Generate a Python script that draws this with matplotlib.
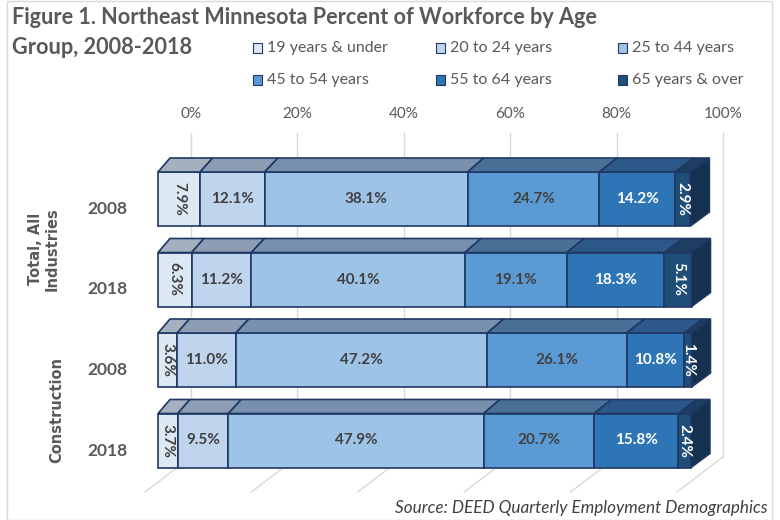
import matplotlib
matplotlib.use('Agg')
import matplotlib.pyplot as plt
from matplotlib.patches import Polygon, Rectangle

plt.rcParams['font.family'] = ['Lato', 'DejaVu Sans']

# data
group_labels = ['Total, All\nIndustries', 'Construction']
years = ['2008', '2018', '2008', '2018']
age_groups = ['19 years & under', '20 to 24 years', '25 to 44 years',
              '45 to 54 years', '55 to 64 years', '65 years & over']
under19 = [7.9, 6.3, 3.6, 3.7]
age20_24 = [12.1, 11.2, 11.0, 9.5]
age25_44 = [38.1, 40.1, 47.2, 47.9]
age45_54 = [24.7, 19.1, 26.1, 20.7]
age55_64 = [14.2, 18.3, 10.8, 15.8]
over65 = [2.9, 5.1, 1.4, 2.4]
ticks = [0, 20, 40, 60, 80, 100]

series = [under19, age20_24, age25_44, age45_54, age55_64, over65]
front_c = ['#dde8f5', '#bfd5ee', '#9dc3e6', '#5b9bd5', '#2e75b6', '#1f4e79']
top_c = ['#a5b0bf', '#8c9db4', '#7790ad', '#4a7098', '#2b5889', '#1d3d63']
side_c = '#16304f'
edge = '#1f3864'
txt_c = ['#404040', '#404040', '#404040', '#404040', 'white', 'white']
gray = '#595959'

W, H = 780, 520
PX = 5.33      # pixels per percent (front plane)
X0 = 158       # pixel x of 0% on the front plane
Y0 = 199       # pixel y of first bar centre
PITCH = 80.5   # pixels between bars

fig = plt.figure(figsize=(W / 100, H / 100), dpi=100)
ax = fig.add_axes([0, 0, 1, 1])
ax.set_xlim(-X0 / PX, (W - X0) / PX)
ax.set_ylim((H - Y0) / PITCH, -Y0 / PITCH)
ax.axis('off')

h = 54 / PITCH          # bar height
d = 14 / PITCH          # depth (vertical)


def back(x):
    # x position of the back edge (perspective)
    return 2.25 + x * 1.013


def grid_x(p):
    return 6.19 + p * 0.998


wall_top = (133 - Y0) / PITCH
wall_bot = (457 - Y0) / PITCH
floor_front = (492 - Y0) / PITCH

for p in ticks:
    gx = grid_x(p)
    ax.plot([gx, gx], [wall_top, wall_bot], color='#d9d9d9', lw=1, zorder=1)
    ax.plot([gx, gx - 46 / PX], [wall_bot, floor_front], color='#d9d9d9', lw=1, zorder=1)
    ax.text(gx, (114 - Y0) / PITCH, '%d%%' % p, ha='center', va='center',
            fontsize=11, color=gray)

n = len(years)
ypos = list(range(n))
left = [0.0] * n
for k, vals in enumerate(series):
    ax.barh(ypos, vals, left=left, height=h, color=front_c[k],
            edgecolor=edge, linewidth=1.2, zorder=3)
    for i in range(n):
        x0, x1 = left[i], left[i] + vals[i]
        top = i - h / 2
        ax.add_patch(Polygon([(x0, top), (x1, top), (back(x1), top - d), (back(x0), top - d)],
                             closed=True, fc=top_c[k], ec=edge, lw=1.2, zorder=3))
        rot = -90 if vals[i] < 8 else 0
        ax.text((x0 + x1) / 2, i, '%.1f%%' % vals[i], ha='center', va='center',
                rotation=rot, fontsize=11, fontweight='bold', color=txt_c[k], zorder=5)
    left = [l + v for l, v in zip(left, vals)]

# right side faces
for i in range(n):
    x1 = left[i]
    top, bot = i - h / 2, i + h / 2
    ax.add_patch(Polygon([(x1, top), (back(x1), top - d), (back(x1), bot - d), (x1, bot)],
                         closed=True, fc=side_c, ec=edge, lw=1.2, zorder=3))

# year labels and group labels
for i, yr in enumerate(years):
    ax.text((107 - X0) / PX, i + 10 / PITCH, yr, ha='center', va='center',
            fontsize=12.5, fontweight='bold', color=gray)
group_px = [44, 57]
for g, lab in enumerate(group_labels):
    ax.text((group_px[g] - X0) / PX, 2 * g + 0.5 + 10 / PITCH, lab, ha='center', va='center',
            rotation=90, fontsize=10.5, fontweight='bold', color=gray,
            family='DejaVu Sans', linespacing=1.1)

# title
fig.text(12 / W, 1 - 18 / H, 'Figure 1. Northeast Minnesota Percent of Workforce by Age',
         ha='left', va='center', fontsize=15.6, fontweight='bold', color=gray)
fig.text(12 / W, 1 - 47 / H, 'Group, 2008-2018',
         ha='left', va='center', fontsize=15.6, fontweight='bold', color=gray)

# legend
col_x = [253, 436, 618]
row_y = [48, 80]
for k, name in enumerate(age_groups):
    cx = col_x[k % 3]
    cy = row_y[k // 3]
    fig.patches.append(Rectangle((cx / W, 1 - (cy + 4.5) / H), 9 / W, 9 / H,
                                 transform=fig.transFigure, fc=front_c[k],
                                 ec=edge, lw=0.8))
    fig.text((cx + 14) / W, 1 - cy / H, name, ha='left', va='center',
             fontsize=11.5, color=gray)

# source
fig.text(768 / W, 1 - 508 / H, 'Source: DEED Quarterly Employment Demographics',
         ha='right', va='center', fontsize=12.3, style='italic', color='#404040')

# border
fig.patches.append(Rectangle((7 / W, 0), 765 / W, 1 - 1 / H, transform=fig.transFigure,
                             fill=False, ec='#d9d9d9', lw=1))

fig.savefig('out.png', dpi=100)
